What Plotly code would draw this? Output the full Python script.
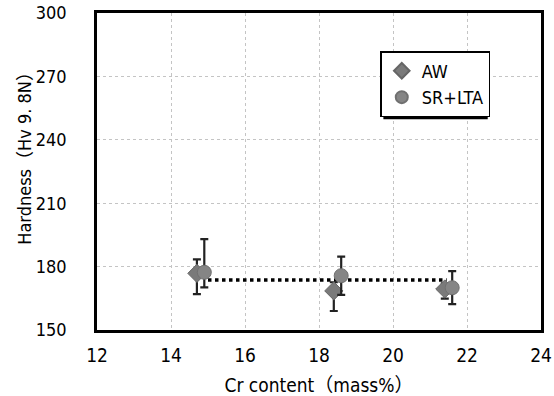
import plotly.graph_objects as go

# Data
aw_x = [14.7, 18.4, 21.4]
aw_y = [176.8, 168.5, 169.4]
aw_err_plus = [6.6, 4.1, 2.7]
aw_err_minus = [9.8, 9.5, 4.6]

sr_x = [14.9, 18.6, 21.6]
sr_y = [177.3, 175.7, 170.0]
sr_err_plus = [15.7, 9.0, 7.9]
sr_err_minus = [7.1, 9.1, 7.8]

trend_x = [15.0, 21.45]
trend_y = [173.7, 173.7]

x_ticks = [12, 14, 16, 18, 20, 22, 24]
y_ticks = [150, 180, 210, 240, 270, 300]

FONT = "DejaVu Sans Condensed, Noto Sans CJK JP, sans-serif"

fig = go.Figure()

fig.add_trace(go.Scatter(
    x=trend_x, y=trend_y, mode="lines",
    line=dict(color="black", width=3.5, dash="dot"),
    showlegend=False, hoverinfo="skip"))

fig.add_trace(go.Scatter(
    x=aw_x, y=aw_y, mode="markers", name="AW",
    marker=dict(symbol="diamond", size=14, color="#7a7a7a",
                line=dict(color="#666666", width=1)),
    error_y=dict(type="data", symmetric=False, array=aw_err_plus,
                 arrayminus=aw_err_minus, color="#222222",
                 thickness=2.2, width=4)))

fig.add_trace(go.Scatter(
    x=sr_x, y=sr_y, mode="markers", name="SR+LTA",
    marker=dict(symbol="circle", size=14, color="#858585",
                line=dict(color="#707070", width=1)),
    error_y=dict(type="data", symmetric=False, array=sr_err_plus,
                 arrayminus=sr_err_minus, color="#222222",
                 thickness=2.2, width=4)))

# legend shadow (offset 3px right/down of the legend box)
fig.add_shape(type="rect", xref="paper", yref="paper",
              x0=0.645, x1=0.88, y0=0.665, y1=0.872,
              fillcolor="black", line=dict(width=0), layer="above")

fig.update_layout(
    width=554, height=396,
    margin=dict(l=97, r=13, t=13, b=66),
    paper_bgcolor="white", plot_bgcolor="white",
    font=dict(family=FONT, size=19, color="black"),
    legend=dict(x=0.638, y=0.88, xanchor="left", yanchor="top",
                bgcolor="white", bordercolor="black", borderwidth=1.5,
                font=dict(family=FONT, size=18),
                itemsizing="constant", tracegroupgap=4),
    xaxis=dict(range=[12, 24], tickvals=x_ticks, showgrid=True,
               gridcolor="#c4c4c4", griddash="dot", gridwidth=1,
               showline=True, linecolor="black", linewidth=2.5, mirror=True,
               ticks="", ticklabelstandoff=6, zeroline=False,
               ticklabeloverflow="allow", automargin=False,
               tickfont=dict(size=19),
               title=dict(text="Cr content（mass%）", standoff=20,
                          font=dict(family=FONT, size=19))),
    yaxis=dict(range=[150, 300], tickvals=y_ticks, showgrid=True,
               gridcolor="#c4c4c4", griddash="dot", gridwidth=1,
               showline=True, linecolor="black", linewidth=2.5, mirror=True,
               ticks="", ticklabelstandoff=24, zeroline=False,
               ticklabeloverflow="allow", automargin=False,
               tickfont=dict(size=18)),
    annotations=[dict(text="Hardness（Hv 9. 8N）", textangle=-90,
                      xref="paper", yref="paper", x=-0.165, y=0.555,
                      xanchor="center", yanchor="middle", showarrow=False,
                      font=dict(family=FONT, size=18, color="black"))],
)

fig.write_html("out.html")
